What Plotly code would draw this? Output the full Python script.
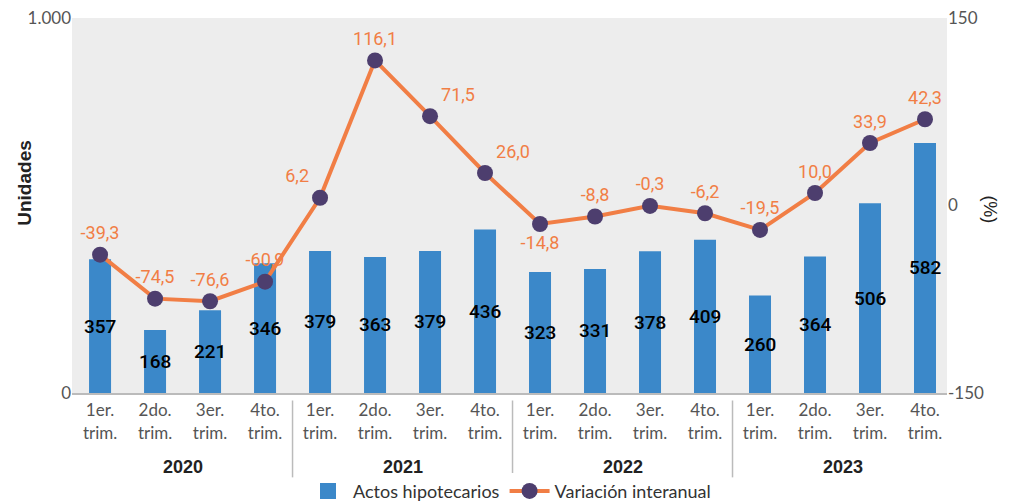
import plotly.graph_objects as go

# ---- data ----
years = ["2020", "2021", "2022", "2023"]
quarters = ["1er.<br>trim.", "2do.<br>trim.", "3er.<br>trim.", "4to.<br>trim."]
# bar heights as drawn (units)
actos = [357, 168, 221, 346, 379, 363, 379, 436, 323, 331, 378, 409, 260, 364, 506, 667]
actos_labels = ["357", "168", "221", "346", "379", "363", "379", "436",
                "323", "331", "378", "409", "260", "364", "506", "582"]
# line points as drawn (%)
variacion = [-39.3, -74.5, -76.6, -60.9, 6.2, 116.1, 71.5, 26.0,
             -14.8, -8.8, -0.3, -6.2, -19.5, 10.0, 50.0, 69.0]
variacion_labels = ["-39,3", "-74,5", "-76,6", "-60,9", "6,2", "116,1", "71,5", "26,0",
                    "-14,8", "-8,8", "-0,3", "-6,2", "-19,5", "10,0", "33,9", "42,3"]

x = list(range(len(actos)))
ticktext = [q for _ in years for q in quarters]
label_pos = ["top center"] * len(x)
label_pos[4] = "top left"
label_pos[6] = "top right"
label_pos[7] = "top right"
label_pos[8] = "bottom center"

BLUE = "#3B88C9"
ORANGE = "#F17E45"
PURPLE = "#4D3E6E"
COND = "Roboto, Liberation Sans, sans-serif"
BODY = "Lato, Roboto, sans-serif"
BOLD = "Liberation Sans, Arial, sans-serif"

fig = go.Figure()
fig.add_trace(go.Bar(
    x=x, y=actos, name="Actos hipotecarios", marker=dict(color=BLUE, line=dict(width=0)),
    width=0.4, yaxis="y", hoverinfo="skip", showlegend=False))
# legend entry for the bars (larger square swatch)
fig.add_trace(go.Scatter(
    x=[None], y=[None], name="Actos hipotecarios", mode="markers",
    marker=dict(color=BLUE, size=16, symbol="square"), hoverinfo="skip"))
fig.add_trace(go.Scatter(
    x=x, y=variacion, name="Variación interanual", yaxis="y2",
    mode="lines+markers+text", text=variacion_labels, textposition=label_pos,
    textfont=dict(family=COND, size=18, color=ORANGE),
    line=dict(color=ORANGE, width=4),
    marker=dict(color=PURPLE, size=16), hoverinfo="skip"))

annotations = []
for i, (v, t) in enumerate(zip(actos, actos_labels)):
    annotations.append(dict(x=i, y=v / 2, xref="x", yref="y", text=t, showarrow=False,
                            font=dict(family=COND, size=19, color="#000000", weight=500)))
for k, yr in enumerate(years):
    annotations.append(dict(x=k * 4 + 1.5, y=-0.197, xref="x", yref="paper", text="<b>" + yr + "</b>",
                            showarrow=False, xanchor="center", yanchor="middle",
                            font=dict(family=BOLD, size=18, color="#222222")))
annotations.append(dict(x=-0.054, y=0.56, xref="paper", yref="paper", text="<b>Unidades</b>",
                        textangle=-90, showarrow=False, xanchor="center", yanchor="middle",
                        font=dict(family=BOLD, size=19, color="#222222")))
annotations.append(dict(x=1.049, y=0.49, xref="paper", yref="paper", text="(%)",
                        textangle=90, showarrow=False, xanchor="center", yanchor="middle",
                        font=dict(family=BOLD, size=18, color="#222222")))

shapes = []
for k in range(1, len(years)):
    shapes.append(dict(type="line", xref="x", yref="paper", x0=k * 4 - 0.5, x1=k * 4 - 0.5,
                       y0=-0.02, y1=-0.225, line=dict(color="#BBBBBB", width=1.5)))

fig.update_layout(
    width=1018, height=504,
    margin=dict(l=72, r=71, t=18, b=111, autoexpand=False),
    paper_bgcolor="white", plot_bgcolor="#EDEDED",
    showlegend=True,
    legend=dict(orientation="h", x=0.5, xanchor="center", y=-0.262, yanchor="middle",
                font=dict(family=BODY, size=18, color="#333333"), itemwidth=40,
                traceorder="normal"),
    xaxis=dict(range=[-0.51, 15.4], tickmode="array", tickvals=x, ticktext=ticktext,
               showgrid=False, zeroline=False, showline=True, linecolor="#BBBBBB", linewidth=2,
               ticks="", ticklabelstandoff=1, automargin=False,
               tickfont=dict(family=BODY, size=17, color="#555555")),
    yaxis=dict(range=[0, 1000], tickmode="array", tickvals=[0, 1000], ticktext=["0", "1.000"],
               showgrid=False, zeroline=False, ticks="", automargin=False,
               tickfont=dict(family=BODY, size=17, color="#555555")),
    yaxis2=dict(range=[-150, 150], overlaying="y", side="right", tickmode="array",
                tickvals=[-150, 0, 150], ticktext=["-150", "0", "150"],
                showgrid=False, zeroline=False, ticks="", automargin=False,
                tickfont=dict(family=BODY, size=17, color="#555555")),
    annotations=annotations, shapes=shapes,
)

fig.write_html("out.html", config={"displayModeBar": False},
               post_script="document.body.style.margin='0';")
